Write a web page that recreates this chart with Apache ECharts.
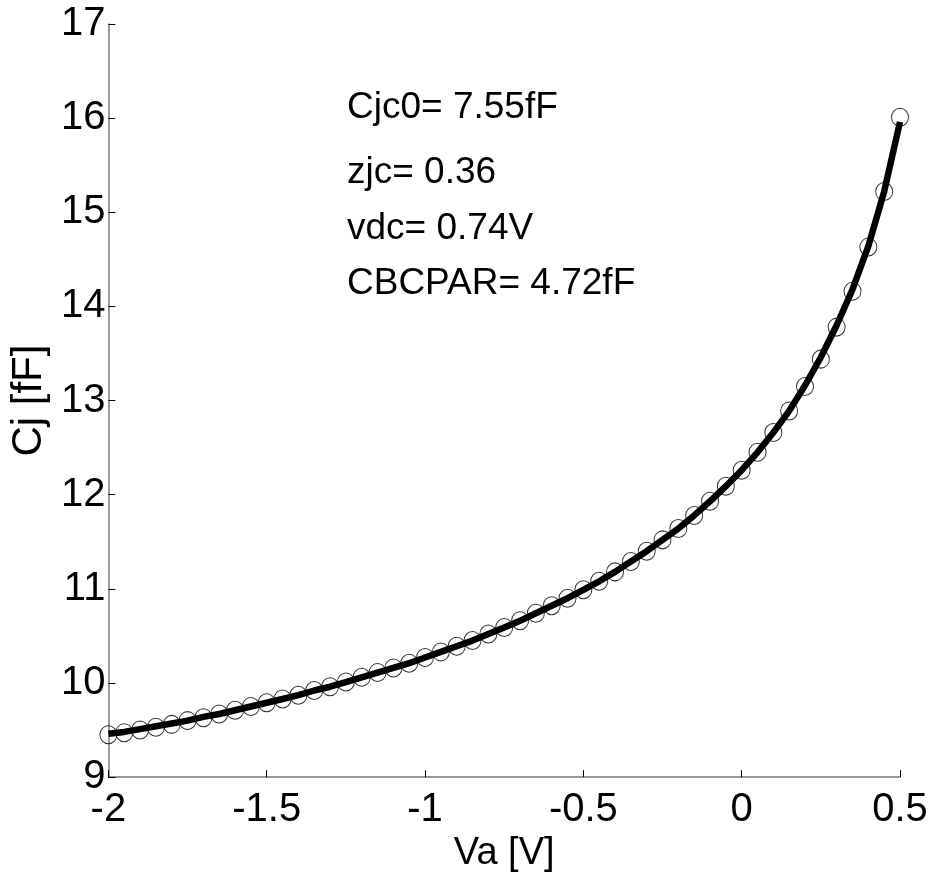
<!DOCTYPE html>
<html>
<head>
<meta charset="utf-8">
<script src="https://cdn.jsdelivr.net/npm/echarts@6/dist/echarts.min.js"></script>
<style>
html,body{margin:0;padding:0;background:#fff;}
#chart{width:951px;height:878px;}
</style>
</head>
<body>
<div id="chart"></div>
<script>
// Bias voltage Va [V]
var vaValues = [-2.00,-1.95,-1.90,-1.85,-1.80,-1.75,-1.70,-1.65,-1.60,-1.55,
  -1.50,-1.45,-1.40,-1.35,-1.30,-1.25,-1.20,-1.15,-1.10,-1.05,
  -1.00,-0.95,-0.90,-0.85,-0.80,-0.75,-0.70,-0.65,-0.60,-0.55,
  -0.50,-0.45,-0.40,-0.35,-0.30,-0.25,-0.20,-0.15,-0.10,-0.05,
  0.00,0.05,0.10,0.15,0.20,0.25,0.30,0.35,0.40,0.45,0.50];
// Measured Cj [fF] (circles)
var cjMeasured = [9.45,9.47,9.50,9.53,9.56,9.60,9.63,9.67,9.71,9.75,
  9.79,9.83,9.87,9.92,9.96,10.01,10.06,10.11,10.16,10.21,
  10.27,10.33,10.39,10.45,10.52,10.59,10.66,10.74,10.82,10.90,
  10.99,11.08,11.18,11.29,11.40,11.52,11.64,11.78,11.93,12.09,
  12.26,12.45,12.66,12.89,13.15,13.44,13.78,14.16,14.63,15.22,16.01];
// Model Cj [fF] (solid line)
var cjModel = [9.46,9.48,9.51,9.54,9.57,9.60,9.64,9.67,9.71,9.75,
  9.79,9.83,9.87,9.92,9.96,10.01,10.06,10.11,10.16,10.21,
  10.27,10.33,10.39,10.45,10.52,10.59,10.66,10.74,10.82,10.90,
  10.99,11.08,11.18,11.29,11.40,11.52,11.64,11.78,11.93,12.09,
  12.26,12.45,12.66,12.89,13.16,13.46,13.80,14.18,14.64,15.22,15.96];
var xTicks = [-2, -1.5, -1, -0.5, 0, 0.5];
var yTicks = [9, 10, 11, 12, 13, 14, 15, 16, 17];
var annotations = ['Cjc0= 7.55fF', 'zjc= 0.36', 'vdc= 0.74V', 'CBCPAR= 4.72fF'];

var FONT = '"Liberation Sans", Arial, sans-serif';
var measuredPts = vaValues.map(function(v, i){ return [v, cjMeasured[i]]; });
var modelPts = vaValues.map(function(v, i){ return [v, cjModel[i]]; });

var annTops = [89, 154, 210, 265];
var graphics = annotations.map(function(t, i){
  return {type:'text', left:347, top:annTops[i], z:10,
    style:{text:t, font:'37px ' + FONT, fill:'#000'}};
});

var chart = echarts.init(document.getElementById('chart'), null, {renderer:'canvas'});
chart.setOption({
  animation:false,
  backgroundColor:'#fff',
  grid:{left:105, right:51, top:24, bottom:100, containLabel:false},
  xAxis:{
    type:'value', min:xTicks[0], max:xTicks[xTicks.length-1], interval:0.5,
    name:'Va [V]', nameLocation:'middle', nameGap:56,
    nameTextStyle:{fontFamily:FONT, fontSize:38, color:'#000'},
    axisLine:{show:true, onZero:false, lineStyle:{color:'#7a7a7a', width:1.5}},
    axisTick:{show:true, inside:true, length:7, lineStyle:{color:'#000', width:1}},
    axisLabel:{fontFamily:FONT, fontSize:40, color:'#000', margin:13,
      formatter:function(v){ return String(v); }},
    splitLine:{show:false}
  },
  yAxis:{
    type:'value', min:yTicks[0], max:yTicks[yTicks.length-1], interval:1,
    name:'Cj [fF]', nameLocation:'middle', nameGap:41, nameRotate:90,
    nameTextStyle:{fontFamily:FONT, fontSize:42, color:'#000'},
    axisLine:{show:true, onZero:false, lineStyle:{color:'#7a7a7a', width:1.5}},
    axisTick:{show:true, inside:true, length:7, lineStyle:{color:'#000', width:1}},
    axisLabel:{fontFamily:FONT, fontSize:40, color:'#000', margin:3},
    splitLine:{show:false}
  },
  graphic:graphics,
  series:[
    {type:'scatter', data:measuredPts, symbol:'circle', symbolSize:[17,18], z:2,
      itemStyle:{color:'rgba(0,0,0,0)', borderColor:'#000', borderWidth:1}},
    {type:'line', data:modelPts, showSymbol:false, smooth:false, z:3,
      lineStyle:{color:'#000', width:6.5}}
  ]
});
</script>
</body>
</html>
